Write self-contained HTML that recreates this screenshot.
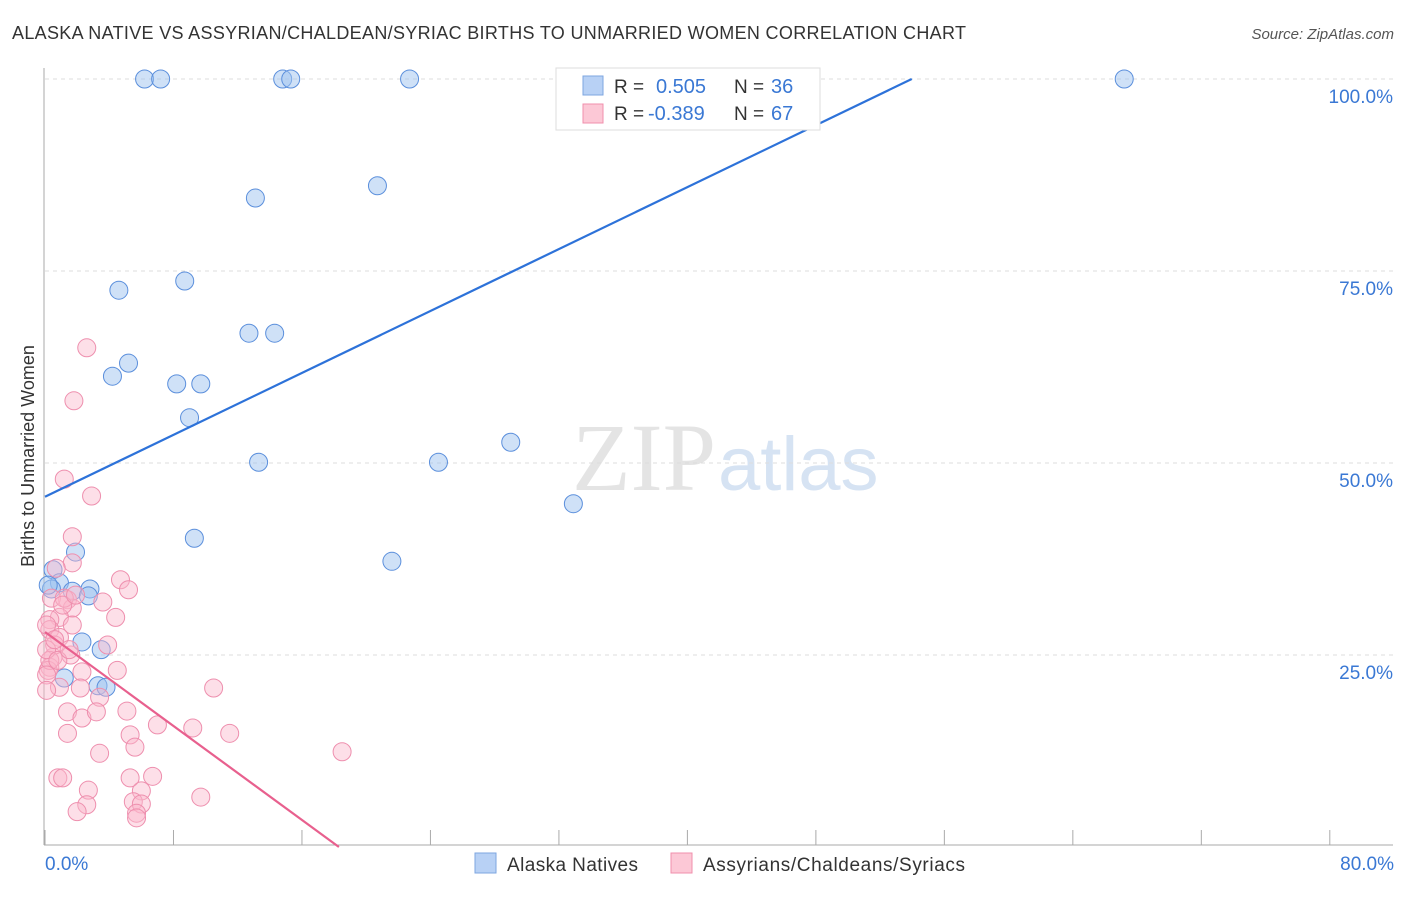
<!DOCTYPE html>
<html><head><meta charset="utf-8"><style>
body{margin:0;background:#fff;font-family:"Liberation Sans",sans-serif}
</style></head><body>
<svg id="c" width="1406" height="892" xmlns="http://www.w3.org/2000/svg" font-family="Liberation Sans, sans-serif">
<text x="12" y="39" font-size="18" fill="#333" textLength="954">ALASKA NATIVE VS ASSYRIAN/CHALDEAN/SYRIAC BIRTHS TO UNMARRIED WOMEN CORRELATION CHART</text>
<text x="1394" y="39" font-size="15" fill="#555" font-style="italic" text-anchor="end">Source: ZipAtlas.com</text>
<text x="716" y="490" font-size="96" fill="#e4e4e4" text-anchor="end" font-family="Liberation Serif, serif">ZIP</text>
<text x="718" y="490" font-size="76" fill="#d6e3f3">atlas</text>
<text transform="translate(34,456) rotate(-90)" font-size="18" fill="#333" text-anchor="middle">Births to Unmarried Women</text>
<g id="grid"></g><g id="marks"></g>
<g>
<rect x="556" y="68" width="264" height="62" fill="#fff" stroke="#ddd"/>
<rect x="583" y="76" width="20" height="19" fill="#b8d1f5" stroke="#7ea6e0"/>
<rect x="583" y="104" width="20" height="19" fill="#fcc8d6" stroke="#f08fac"/>
<text x="614" y="93" font-size="19" fill="#333">R = </text><text x="656" y="93" font-size="20" fill="#3a78d4">0.505</text>
<text x="734" y="93" font-size="19" fill="#333">N = </text><text x="771" y="93" font-size="20" fill="#3a78d4">36</text>
<text x="614" y="120" font-size="19" fill="#333">R = </text><text x="648" y="120" font-size="20" fill="#3a78d4">-0.389</text>
<text x="734" y="120" font-size="19" fill="#333">N = </text><text x="771" y="120" font-size="20" fill="#3a78d4">67</text>
</g>
<g>
<rect x="475" y="853" width="21" height="20" fill="#b8d1f5" stroke="#7ea6e0"/>
<text x="507" y="871" font-size="19" fill="#333" textLength="131">Alaska Natives</text>
<rect x="671" y="853" width="21" height="20" fill="#fcc8d6" stroke="#f08fac"/>
<text x="703" y="871" font-size="19" fill="#333" textLength="262">Assyrians/Chaldeans/Syriacs</text>
</g>
<text x="45" y="870" font-size="19" fill="#3a78d4">0.0%</text>
<text x="1394" y="870" font-size="19" fill="#3a78d4" text-anchor="end">80.0%</text>
</svg>
<script>
const yTicks=[25,50,75,100];
const yTickLabels=["25.0%","50.0%","75.0%","100.0%"];
const xTicks=[0,8,16,24,32,40,48,56,64,72,80];
const blueX=[6.2,7.2,14.8,15.3,22.7,67.2,20.7,13.1,8.7,4.6,12.7,14.3,5.2,4.2,8.2,9.7,9.0,13.3,24.5,29.0,32.9,9.3,21.6,1.9,0.5,0.9,1.7,2.8,2.7,0.4,2.3,3.5,3.3,3.8,1.2,0.2];
const blueY=[100,100,100,100,100,100,86.1,84.5,73.7,72.5,66.9,66.9,63.0,61.3,60.3,60.3,55.9,50.1,50.1,52.7,44.7,40.2,37.2,38.4,36.1,34.4,33.3,33.6,32.7,33.6,26.7,25.7,21.0,20.8,22.0,34.1];
const pinkX=[1.7,1.7,0.7,4.7,5.2,3.6,4.4,1.4,1.7,0.9,1.7,0.3,0.3,0.9,3.9,1.6,0.5,0.3,4.5,2.3,0.9,2.2,3.4,10.5,1.4,2.3,3.2,5.1,7.0,9.2,11.5,1.4,5.3,5.6,3.4,18.5,0.8,1.1,5.3,6.7,2.7,6.0,9.7,2.6,5.5,6.0,2.0,5.7,5.7,2.6,1.8,1.2,2.9,0.4,1.2,0.6,0.2,0.3,0.1,0.1,0.6,0.1,1.1,1.9,0.8,1.5,0.1];
const pinkY=[40.4,37.0,36.3,34.8,33.5,31.9,29.9,32.2,31.1,29.9,28.9,29.6,28.3,27.3,26.3,25.0,24.7,23.4,23.0,22.8,20.8,20.7,19.5,20.7,17.6,16.8,17.6,17.7,15.9,15.5,14.8,14.8,14.6,13.0,12.2,12.4,9.0,9.0,9.0,9.2,7.4,7.3,6.5,5.5,5.9,5.6,4.6,4.4,3.8,65.0,58.1,47.9,45.7,32.4,32.4,26.3,23.0,24.3,25.7,28.9,27.0,22.4,31.5,32.8,24.3,25.7,20.4];
const blueTrend=[45.6,1.008]; // intercept, slope
const pinkTrend=[28.0,-1.53];
const X=v=>45+v*16.06, Y=v=>847-v*7.68;
const NS="http://www.w3.org/2000/svg";
function mk(t,a,p){const e=document.createElementNS(NS,t);for(const k in a)e.setAttribute(k,a[k]);p.appendChild(e);return e;}
const g=document.getElementById('grid'), m=document.getElementById('marks');
yTicks.forEach((t,i)=>{
 const l=mk('line',{x1:45,x2:1393,y1:Y(t),y2:Y(t),stroke:'#ddd','stroke-dasharray':'4,4'},g);
 
 
 const tx=mk('text',{x:1393,y:Y(t)+24,'font-size':19,fill:'#3a78d4','text-anchor':'end'},g);
 tx.textContent=yTickLabels[i];
 
 
});
const ax=mk('line',{x1:44,x2:44,y1:68,y2:845,stroke:'#aaa'},g);


const bx=mk('line',{x1:44,x2:1393,y1:845,y2:845,stroke:'#aaa'},g);


xTicks.forEach(t=>{
 const l=mk('line',{x1:X(t),x2:X(t),y1:830,y2:845,stroke:'#aaa'},g);
 
 
});
blueX.forEach((v,i)=>{
 const c=mk('circle',{cx:X(v),cy:Y(blueY[i]),r:9,fill:'rgba(160,195,240,0.5)',stroke:'#5b8fdc','stroke-width':1},m);
 
 
});
pinkX.forEach((v,i)=>{
 const c=mk('circle',{cx:X(v),cy:Y(pinkY[i]),r:9,fill:'rgba(250,185,205,0.45)',stroke:'#ee8fae','stroke-width':1},m);
 
 
});
const bxEnd=(100-blueTrend[0])/blueTrend[1];
const bl=mk('line',{x1:X(0),y1:Y(blueTrend[0]),x2:X(bxEnd),y2:Y(100),stroke:'#2d72d9','stroke-width':2.2},m);


const pxEnd=-pinkTrend[0]/pinkTrend[1];
const pl=mk('line',{x1:X(0),y1:Y(pinkTrend[0]),x2:X(pxEnd),y2:Y(0),stroke:'#e8608e','stroke-width':2.2},m);


</script>
</body></html>
